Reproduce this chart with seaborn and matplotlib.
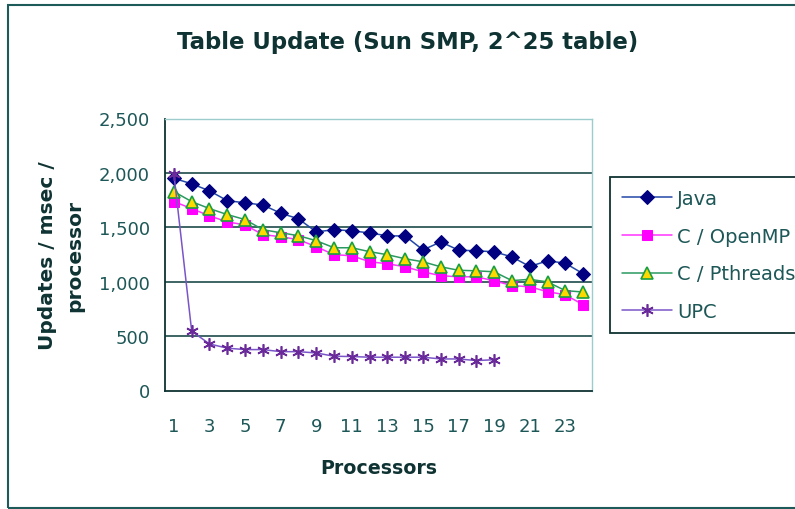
import numpy as np
import pandas as pd
import seaborn as sns
import matplotlib
matplotlib.use("Agg")
import matplotlib.pyplot as plt
from matplotlib.patches import Rectangle
from matplotlib.ticker import FuncFormatter

processors = list(range(1, 25))
java = [1950, 1900, 1835, 1745, 1725, 1705, 1630, 1578, 1458, 1478, 1468, 1448,
        1422, 1420, 1292, 1366, 1290, 1284, 1275, 1228, 1140, 1192, 1170, 1073]
openmp = [1736, 1672, 1605, 1550, 1522, 1432, 1414, 1386, 1322, 1248, 1239, 1183,
          1165, 1137, 1091, 1055, 1045, 1045, 1008, 965, 953, 908, 880, 788]
pthreads = [1828, 1736, 1672, 1617, 1571, 1478, 1450, 1423, 1377, 1312, 1312, 1276,
            1248, 1211, 1183, 1137, 1105, 1100, 1091, 1010, 1022, 998, 918, 905]
upc_proc = list(range(1, 20))
upc = [1990, 545, 428, 389, 376, 376, 357, 357, 345, 315, 312,
       306, 306, 306, 306, 290, 290, 275, 283]
y_ticks = [0, 500, 1000, 1500, 2000, 2500]
x_tick_labels = [1, 3, 5, 7, 9, 11, 13, 15, 17, 19, 21, 23]

sns.set_theme(style="white")
plt.rcParams['font.family'] = ['DejaVu Sans']

W, H = 795, 510
fig = plt.figure(figsize=(W / 100, H / 100), dpi=100)
ax = fig.add_axes([165 / W, 1 - 391.5 / H, (592 - 165) / W, (391.5 - 119.5) / H])

dark = '#0f3333'
tickc = '#1d5757'
pale = '#9ccccc'

df_java = pd.DataFrame({'x': processors, 'y': java})
df_omp = pd.DataFrame({'x': processors, 'y': openmp})
df_pth = pd.DataFrame({'x': processors, 'y': pthreads})
df_upc = pd.DataFrame({'x': upc_proc, 'y': upc})

sns.lineplot(data=df_java, x='x', y='y', ax=ax, color='#2448a8', lw=1.1,
             marker='D', ms=7, mfc='#000080', mec='#000080', label='Java')
sns.lineplot(data=df_omp, x='x', y='y', ax=ax, color='#ff33ff', lw=1.1,
             marker='s', ms=7, mfc='#ff00ff', mec='#ff00ff', label='C / OpenMP')
sns.lineplot(data=df_pth, x='x', y='y', ax=ax, color='#2a9a60', lw=1.1,
             marker='^', ms=8.5, mfc='#ffd800', mec='#18a040', mew=1.2,
             label='C / Pthreads')
sns.lineplot(data=df_upc, x='x', y='y', ax=ax, color='#7a55c8', lw=1.1,
             marker=(6, 2, 0), ms=9, mec='#6a2a9a', mew=1.2, label='UPC')

ax.set_xlim(0.5, 24.5)
ax.set_ylim(0, 2500)
ax.set_yticks(y_ticks)
ax.yaxis.set_major_formatter(FuncFormatter(lambda v, p: f"{int(v):,}"))
ax.set_xticks(x_tick_labels)
ax.set_xticklabels([str(v) for v in x_tick_labels])
ax.set_xticks(np.arange(0.5, 25, 1), minor=True)
ax.tick_params(axis='x', which='major', length=0, pad=19, labelsize=13, labelcolor=tickc)
ax.tick_params(axis='x', which='minor', length=6, width=1.2, color=dark, direction='out')
ax.tick_params(axis='y', which='major', length=6, width=1.2, color=dark, direction='out',
               pad=5, labelsize=13, labelcolor=tickc)

for v in y_ticks[1:-1]:
    ax.axhline(v, color='#1d4a4a', lw=1.2, zorder=0.5)

for s in ['left', 'bottom']:
    ax.spines[s].set_color(dark)
    ax.spines[s].set_linewidth(1.3)
for s in ['top', 'right']:
    ax.spines[s].set_color(pale)
    ax.spines[s].set_linewidth(1.0)

ax.set_xlabel('Processors', fontsize=13.7, fontweight='bold', color=dark, labelpad=17)
ax.set_ylabel('Updates / msec /\nprocessor', fontsize=14.5, fontweight='bold', color=dark,
              labelpad=10, linespacing=1.55)

fig.text(408 / W, 1 - 42 / H, 'Table Update (Sun SMP, 2^25 table)', ha='center', va='center',
         fontsize=16.4, fontweight='bold', color=dark)

ax.get_legend().remove()
handles, labels = ax.get_legend_handles_labels()
leg = fig.legend(handles, labels, loc='upper left',
                 bbox_to_anchor=(610 / W, 1 - 178 / H, 230 / W, 0), mode='expand',
                 fontsize=14, labelspacing=0.97, handlelength=2.6, handletextpad=0.25,
                 borderpad=0.6, borderaxespad=0, fancybox=False, framealpha=1,
                 edgecolor=dark, labelcolor=tickc)
leg.get_frame().set_linewidth(1.3)

fig.patches.append(Rectangle((8 / W, 1 - 508.5 / H), 900 / W, (508.5 - 5.5) / H,
                             transform=fig.transFigure, fill=False, edgecolor='#1d5a5a',
                             lw=1.5))

fig.savefig('out.png', dpi=100)
